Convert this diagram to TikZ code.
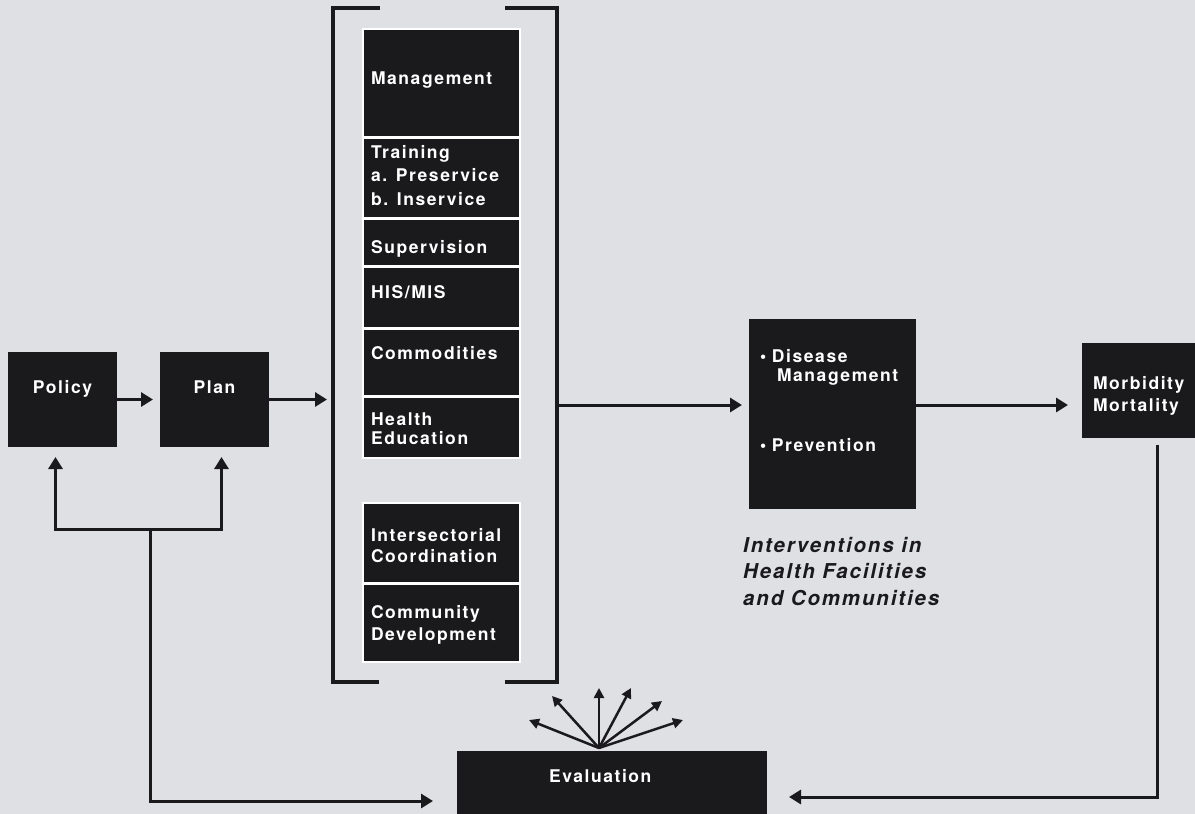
\documentclass[tikz,border=0pt]{standalone}
\usepackage{fontspec}
\usepackage{tikz}
\usetikzlibrary{positioning,arrows.meta}

\newfontfamily\heros{TeX Gyre Heros}[LetterSpace=9]
\definecolor{paper}{RGB}{223,224,228}
\definecolor{ink}{RGB}{26,25,28}
\newcommand\boxfont[1]{\heros\bfseries\fontsize{17.5}{#1}\selectfont}

\tikzset{
  blk/.style={fill=ink, text=white, inner ysep=0pt, outer sep=0pt, align=left, font=\boxfont{20}},
  pad/.style 2 args={text height=#1pt, text depth=#2pt},
  colbox/.style={blk, draw=white, line width=1.5pt, text width=141pt, inner xsep=8pt},
  arr/.style={draw=ink, line width=3pt, -{Triangle[length=12pt,width=14pt]}},
  fanarr/.style={draw=ink, line width=2.5pt, -{Triangle[length=10pt,width=10pt]}},
  brk/.style={draw=ink, line width=3.3pt}
}

\begin{document}
\begin{tikzpicture}[x=1pt,y=-1pt]
    \path[use as bounding box, fill=paper] (0,0) rectangle (1195,814);

    % \node[style] (name) [placement] {text};
    \node[blk, align=center, text width=109pt, inner xsep=0pt, pad={41}{54}] (policy) [anchor=north west] at (8,352) {Policy};
    \node[blk, align=center, text width=109pt, inner xsep=0pt, pad={41}{54}] (plan) [right=43pt of policy] {Plan};

    % the column of program components
    \node[colbox, pad={55}{52.5}] (mgmt) [anchor=north] at (441.5,29) {Management};
    \node[colbox, pad={20}{60}, font=\boxfont{23.5}] (train) [below=1.5pt of mgmt] {Training\\a. Preservice\\b. Inservice};
    \node[colbox, pad={33.5}{13}] (superv) [below=1.5pt of train] {Supervision};
    \node[colbox, pad={30.5}{30}] (his) [below=1.5pt of superv] {HIS/MIS};
    \node[colbox, pad={29.5}{37}] (comm) [below=1.5pt of his] {Commodities};
    \node[colbox, pad={27.5}{33}, font=\boxfont{19}] (hed) [below=1.5pt of comm] {Health\\Education};
    \node[colbox, pad={38}{42}, font=\boxfont{21}] (isc) [below=45pt of hed] {Intersectorial\\Coordination};
    \node[colbox, pad={33.5}{44}, font=\boxfont{22}] (cdev) [below=1.5pt of isc] {Community\\Development};
    \node[inner sep=0pt, outer sep=0pt, minimum width=224pt, minimum height=674pt] (grp) [anchor=north west] at (333,8) {};

    \node[blk, text width=145pt, inner xsep=11pt, pad={43}{147}, font=\boxfont{19}] (ints) [anchor=north west] at (749,319)
        {\textbullet\ Disease\\\hspace*{17pt}Management\\[51pt]\textbullet\ Prevention};
    \node[font=\heros\bfseries\itshape\fontsize{20.5}{26.5}\selectfont, text=ink, align=left, inner sep=0pt] (intlbl)
        [anchor=base west] at ([shift={(-6pt,-96pt)}]ints.south west) {Interventions in\\Health Facilities\\and Communities};
    \node[blk, text width=128pt, inner xsep=11pt, pad={46}{49}, font=\boxfont{22}] (morb) [anchor=north west] at (1082,343) {Morbidity\\Mortality};
    \node[blk, text width=126pt, inner xsep=92pt, pad={31}{49}] (eval) [anchor=north west] at (457,751) {Evaluation};

    % brackets round the column
    \draw[brk] ([xshift=47pt]grp.north west) -- (grp.north west) -- (grp.south west) -- ([xshift=46pt]grp.south west);
    \draw[brk] ([xshift=-52pt]grp.north east) -- (grp.north east) -- (grp.south east) -- ([xshift=-52pt]grp.south east);

    % forward chain
    \coordinate (tapl) at ([yshift=9pt]ints.west);
    \coordinate (tapr) at ([yshift=9pt]ints.east);
    \draw[arr, shorten >=7pt] (policy) -- (plan);
    \draw[arr, shorten >=6pt] (plan.east) -- (plan.east -| grp.west);
    \draw[arr, shorten >=7pt] (tapl -| grp.east) -- (tapl);
    \draw[arr, shorten >=14pt] (tapr) -- (tapr -| morb.west);

    % feedback to evaluation and back to policy and plan
    \draw[arr, shorten <=7pt, shorten >=22pt] (morb.south) |- ([yshift=-6pt]eval.east);
    \coordinate (fb) at (150,529);
    \draw[arr, shorten >=10pt] (fb) -| ([xshift=-7pt]policy.south);
    \draw[arr, shorten >=10pt] (fb) -| ([xshift=7pt]plan.south);
    \draw[arr, shorten >=24pt] (fb) |- ([yshift=-10pt]eval.west);

    % evaluation fans out
    \coordinate (fan) at ([shift={(-13pt,3pt)}]eval.north);
    \foreach \dx/\dy in {-70/-28,-47/-52,0/-60,32/-60,63/-47,84/-28}
        \draw[fanarr] (fan) -- ++(\dx,\dy);
\end{tikzpicture}
\end{document}
